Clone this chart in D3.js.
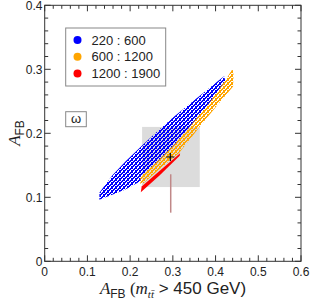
<!DOCTYPE html>
<html>
<head>
<meta charset="utf-8">
<script src="https://cdn.jsdelivr.net/npm/d3@7/dist/d3.min.js"></script>
<style>
body { margin: 0; background: #fff; }
text { font-family: "Liberation Sans", Arial, sans-serif; fill: #222; }
</style>
</head>
<body>
<svg id="chart" width="311" height="300"></svg>
<script>
// axis ticks
var xTicks = [0, 0.1, 0.2, 0.3, 0.4, 0.5, 0.6];
var yTicks = [0, 0.1, 0.2, 0.3, 0.4];

// legend
var seriesNames = ["220 : 600", "600 : 1200", "1200 : 1900"];
var seriesColors = ["#0000ff", "#ffa500", "#ff0000"];

// scan regions (outline of each point cloud)
var blueRegion = [
  [0.128, 0.099], [0.128, 0.107], [0.158, 0.134], [0.189, 0.156], [0.228, 0.181],
  [0.267, 0.205], [0.306, 0.228], [0.345, 0.249], [0.384, 0.270], [0.408, 0.283],
  [0.420, 0.289], [0.423, 0.282], [0.384, 0.243], [0.345, 0.211], [0.306, 0.180],
  [0.267, 0.154], [0.224, 0.125], [0.189, 0.112], [0.158, 0.104], [0.128, 0.096]
];
var orangeRegion = [
  [0.224, 0.121], [0.224, 0.132], [0.267, 0.158], [0.306, 0.184], [0.345, 0.215],
  [0.384, 0.246], [0.423, 0.283], [0.440, 0.301], [0.442, 0.291], [0.441, 0.273],
  [0.408, 0.247], [0.376, 0.221], [0.345, 0.195], [0.314, 0.169], [0.267, 0.143],
  [0.228, 0.120]
];
var redRegion = [
  [0.225, 0.108], [0.270, 0.135], [0.316, 0.165],
  [0.317, 0.169], [0.270, 0.142], [0.227, 0.117]
];

// measurement: 1 sigma box, central value, second measurement
var boxX = [0.228, 0.363];
var boxY = [0.116, 0.210];
var central = [0.294, 0.163];
var lineX = 0.295;
var lineY = [0.076, 0.136];

var svg = d3.select("#chart");
var pL = 44.7, pR = 301, pT = 5.3, pB = 261.3;

var x = d3.scaleLinear().domain([0, 0.6]).range([pL, pR]);
var y = d3.scaleLinear().domain([0, 0.4]).range([pB, pT]);

// dotted fill patterns (scan-grid look)
var defs = svg.append("defs");
var cellMask = [
  [1, 0, 1, 1],
  [0, 1, 1, 0],
  [1, 1, 0, 1],
  [1, 0, 0, 1]
];
function dots(id, color) {
  var p = defs.append("pattern").attr("id", id)
    .attr("patternUnits", "userSpaceOnUse").attr("width", 4).attr("height", 4);
  cellMask.forEach(function(row, j) {
    row.forEach(function(on, i) {
      if (on) p.append("rect").attr("x", i).attr("y", j).attr("width", 1).attr("height", 1).attr("fill", color);
    });
  });
}
dots("blueDots", seriesColors[0]);
dots("orangeDots", seriesColors[1]);

// gray box
svg.append("rect")
  .attr("x", x(boxX[0])).attr("y", y(boxY[1]))
  .attr("width", x(boxX[1]) - x(boxX[0]))
  .attr("height", y(boxY[0]) - y(boxY[1]))
  .attr("fill", "#dcdcdc");

var line = d3.line().x(function(d) { return x(d[0]); }).y(function(d) { return y(d[1]); }).curve(d3.curveLinearClosed);

svg.append("path").attr("d", line(blueRegion)).attr("fill", "url(#blueDots)");
svg.append("path").attr("d", line(orangeRegion)).attr("fill", "url(#orangeDots)");
svg.append("path").attr("d", line(redRegion)).attr("fill", seriesColors[2]);

// vertical line
svg.append("line")
  .attr("x1", x(lineX)).attr("x2", x(lineX))
  .attr("y1", y(lineY[0])).attr("y2", y(lineY[1]))
  .attr("stroke", "#c08888").attr("stroke-width", 1.5);

// central value cross
svg.append("path")
  .attr("d", "M" + (x(central[0]) - 4) + "," + y(central[1]) + "h8M" + x(central[0]) + "," + (y(central[1]) - 4) + "v8")
  .attr("stroke", "#000").attr("stroke-width", 1.2);

// frame
svg.append("rect").attr("x", pL).attr("y", pT)
  .attr("width", pR - pL).attr("height", pB - pT)
  .attr("fill", "none").attr("stroke", "#333").attr("stroke-width", 1);

// ticks, inward on all four sides
var xMinor = d3.range(0, 0.6001, 0.02);
var yMinor = d3.range(0, 0.4001, 0.02);
var g = svg.append("g").attr("stroke", "#333").attr("stroke-width", 1);
xMinor.forEach(function(v, i) {
  var len = (i % 5 === 0) ? 6 : 3.5;
  g.append("line").attr("x1", x(v)).attr("x2", x(v)).attr("y1", pB).attr("y2", pB - len);
  g.append("line").attr("x1", x(v)).attr("x2", x(v)).attr("y1", pT).attr("y2", pT + len);
});
yMinor.forEach(function(v, i) {
  var len = (i % 5 === 0) ? 6 : 3.5;
  g.append("line").attr("y1", y(v)).attr("y2", y(v)).attr("x1", pL).attr("x2", pL + len);
  g.append("line").attr("y1", y(v)).attr("y2", y(v)).attr("x1", pR).attr("x2", pR - len);
});

// tick labels
svg.selectAll(".xl").data(xTicks).enter().append("text")
  .attr("x", function(d) { return x(d); }).attr("y", 276)
  .attr("text-anchor", "middle").attr("font-size", 12)
  .text(function(d) { return d === 0 ? "0" : d3.format(".1f")(d); });
svg.selectAll(".yl").data(yTicks).enter().append("text")
  .attr("x", 42.5).attr("y", function(d) { return y(d) + 4.3; })
  .attr("text-anchor", "end").attr("font-size", 12)
  .text(function(d) { return d === 0 ? "0" : d3.format(".1f")(d); });

// axis titles
var xt = svg.append("text").attr("x", 173).attr("y", 293.5).attr("text-anchor", "middle").attr("font-size", 17);
xt.append("tspan").attr("font-family", "Liberation Serif, serif").attr("font-style", "italic").text("A");
xt.append("tspan").attr("font-size", 12).attr("dy", 4).text("FB");
xt.append("tspan").attr("dy", -4).attr("font-family", "Liberation Serif, serif").text(" (");
xt.append("tspan").attr("font-family", "Liberation Serif, serif").attr("font-style", "italic").text("m");
xt.append("tspan").attr("font-family", "Liberation Serif, serif").attr("font-style", "italic").attr("font-size", 11).attr("dy", 4).text("tt\u0304");
xt.append("tspan").attr("dy", -4).text(" > 450 GeV)");

var yt = svg.append("text").attr("transform", "translate(20,133) rotate(-90)")
  .attr("text-anchor", "middle").attr("font-size", 17);
yt.append("tspan").attr("font-family", "Liberation Serif, serif").attr("font-style", "italic").text("A");
yt.append("tspan").attr("font-size", 12).attr("dy", 4).text("FB");

// legend
svg.append("rect").attr("x", 65.7).attr("y", 28).attr("width", 100).attr("height", 58)
  .attr("fill", "#fff").attr("stroke", "#888").attr("stroke-width", 1);
seriesNames.forEach(function(name, i) {
  var cy = 40 + i * 16.7;
  svg.append("circle").attr("cx", 77.5).attr("cy", cy).attr("r", 4).attr("fill", seriesColors[i]);
  svg.append("text").attr("x", 91.5).attr("y", cy + 4.5).attr("font-size", 13).text(name);
});

// model label
svg.append("rect").attr("x", 65.7).attr("y", 111.7).attr("width", 20.6).attr("height", 15)
  .attr("fill", "#fff").attr("stroke", "#888").attr("stroke-width", 1);
svg.append("text").attr("x", 76).attr("y", 123).attr("text-anchor", "middle")
  .attr("font-family", "Liberation Serif, serif").attr("font-size", 13).text("\u03c9");
</script>
</body>
</html>
